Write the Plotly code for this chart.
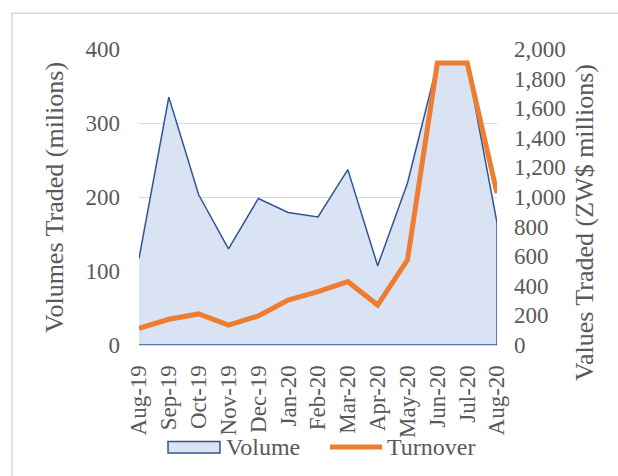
import plotly.graph_objects as go

months = ["Aug-19", "Sep-19", "Oct-19", "Nov-19", "Dec-19", "Jan-20", "Feb-20",
          "Mar-20", "Apr-20", "May-20", "Jun-20", "Jul-20", "Aug-20"]
volume = [117, 335, 203, 130, 198, 179, 173, 237, 107, 219, 380, 380, 165]
turnover = [113, 174, 210, 135, 196, 304, 360, 428, 270, 575, 1905, 1905, 1026]

left_ticks = [0, 100, 200, 300, 400]
right_ticks = [0, 200, 400, 600, 800, 1000, 1200, 1400, 1600, 1800, 2000]

FONT = "Liberation Serif"
GREY = "#595959"
BLUE_FILL = "#dae3f3"
BLUE_LINE = "#2f5597"
ORANGE = "#ed7d31"

# plot area in pixels (for converting layout positions to paper coords)
PL, PR, PT, PB = 139, 497, 49, 345
W, H = 618, 476


def px_x(p):
    return (p - PL) / (PR - PL)


def px_y(p):
    return (PB - p) / (PB - PT)


fig = go.Figure()

# closed area polygon (data + baseline back to start)
fig.add_trace(go.Scatter(
    x=months + [months[-1], months[0]],
    y=volume + [0, 0],
    mode="lines",
    fill="toself",
    fillcolor=BLUE_FILL,
    line=dict(color=BLUE_LINE, width=1.5),
    name="Volume",
    yaxis="y",
    showlegend=False,
))

fig.add_trace(go.Scatter(
    x=months,
    y=turnover,
    mode="lines",
    line=dict(color=ORANGE, width=5),
    name="Turnover",
    yaxis="y2",
    showlegend=False,
))

fig.update_layout(
    width=W, height=H,
    margin=dict(l=PL, r=W - PR, t=PT, b=H - PB),
    paper_bgcolor="white",
    plot_bgcolor="white",
    font=dict(family=FONT, color=GREY, size=23),
    xaxis=dict(
        type="category",
        categoryorder="array",
        categoryarray=months,
        range=[0, len(months) - 1],
        tickangle=-90,
        tickfont=dict(size=23, color=GREY, family=FONT),
        showgrid=False,
        showline=True,
        linecolor="#d9d9d9",
        linewidth=1,
        ticks="",
        ticklabelstandoff=10,
        fixedrange=True,
    ),
    yaxis=dict(
        range=[0, 400],
        tickvals=left_ticks,
        showgrid=True,
        gridcolor="#d9d9d9",
        gridwidth=1,
        zeroline=False,
        showline=False,
        ticks="",
        tickfont=dict(size=23, color=GREY, family=FONT),
        ticklabelstandoff=18,
        fixedrange=True,
    ),
    yaxis2=dict(
        range=[0, 2000],
        tickvals=right_ticks,
        tickformat=",",
        overlaying="y",
        side="right",
        showgrid=False,
        zeroline=False,
        showline=False,
        ticks="",
        tickfont=dict(size=23, color=GREY, family=FONT),
        ticklabelstandoff=16,
        fixedrange=True,
    ),
    showlegend=False,
)

# axis titles as annotations (positioned as in the reference)
fig.add_annotation(
    text="Volumes Traded (milions)",
    xref="paper", yref="paper",
    x=px_x(54), y=px_y(198),
    xanchor="center", yanchor="middle",
    textangle=-90, showarrow=False,
    font=dict(size=26, color=GREY, family=FONT),
)
fig.add_annotation(
    text="Values Traded (ZW$ millions)",
    xref="paper", yref="paper",
    x=px_x(584), y=px_y(223),
    xanchor="center", yanchor="middle",
    textangle=-90, showarrow=False,
    font=dict(size=26, color=GREY, family=FONT),
)

# legend (drawn manually to match the wide swatches)
LEG_Y = 447
fig.add_shape(
    type="rect", xref="paper", yref="paper",
    x0=px_x(168), x1=px_x(220), y0=px_y(453), y1=px_y(441.5),
    fillcolor=BLUE_FILL, line=dict(color=BLUE_LINE, width=1.5),
)
fig.add_annotation(
    text="Volume", xref="paper", yref="paper",
    x=px_x(224), y=px_y(LEG_Y), xanchor="left", yanchor="middle",
    showarrow=False, font=dict(size=24, color=GREY, family=FONT),
)
fig.add_shape(
    type="line", xref="paper", yref="paper",
    x0=px_x(330), x1=px_x(382), y0=px_y(LEG_Y), y1=px_y(LEG_Y),
    line=dict(color=ORANGE, width=5),
)
fig.add_annotation(
    text="Turnover", xref="paper", yref="paper",
    x=px_x(385), y=px_y(LEG_Y), xanchor="left", yanchor="middle",
    showarrow=False, font=dict(size=24, color=GREY, family=FONT),
)

# chart-area border
fig.add_shape(
    type="rect", xref="paper", yref="paper",
    x0=px_x(12), x1=px_x(700),
    y0=px_y(600), y1=px_y(13.3),
    line=dict(color="#d9d9d9", width=1.5),
    fillcolor="rgba(0,0,0,0)",
    layer="below",
)

fig.write_html(
    "out.html",
    config={"displayModeBar": False},
    post_script="document.body.style.margin='0';document.body.style.overflow='hidden';",
)
